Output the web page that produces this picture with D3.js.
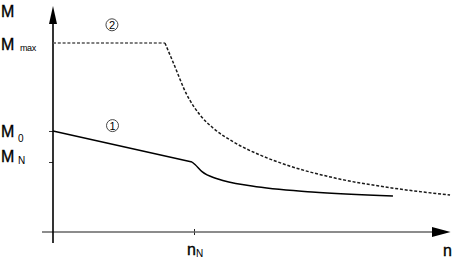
<!DOCTYPE html>
<html><head><meta charset="utf-8">
<script src="https://cdn.jsdelivr.net/npm/d3@7"></script>
<style>body{margin:0;background:#fff}svg{display:block}text{font-family:"Liberation Sans",Arial,sans-serif;fill:#000}</style>
</head><body><svg id="c" width="453" height="263"></svg>
<script>
// Data (n in units of nN, M in units of MN)
const nN = 1, MN = 1, M0 = 1.443, Mmax = 2.7;
const curve1 = [[0,1.443],[0.986,1.0],[1.007,0.965],[1.057,0.862],[1.17,0.757],[1.411,0.657],[1.837,0.571],[2.411,0.514]];
const curve2 = [[0,2.7],[0.794,2.7],[0.851,2.429],[0.95,1.957],[1.043,1.671],[1.135,1.486],[1.277,1.29],[1.468,1.1],[1.667,0.95],[2.0,0.771],[2.404,0.629],[2.816,0.529]];
const yTickLabels = [{v:Mmax,main:"M",sub:"max"},{v:M0,main:"M",sub:"0"},{v:MN,main:"M",sub:"N"}];
const xTickLabels = [{v:nN,main:"n",sub:"N"}];
const curveLabels = [{t:"2",n:0.418,m:2.96},{t:"1",n:0.422,m:1.52}];

const svg = d3.select("#c");
const x = d3.scaleLinear().domain([0,1]).range([53,194]);
const y = d3.scaleLinear().domain([0,1]).range([232,162]);

// axes
const xa = svg.append("g").attr("transform",`translate(0,${y(0)})`)
  .call(d3.axisBottom(x).tickValues([nN]).tickSize(3).tickFormat(""));
xa.select(".domain").remove();
xa.selectAll(".tick line").attr("stroke","#222").attr("y1",-3).attr("stroke-width",1);
svg.append("line").attr("x1",42).attr("x2",434).attr("y1",y(0)).attr("y2",y(0)).attr("stroke","#666").attr("stroke-width",1.6);
svg.append("path").attr("d",`M${x(2.82)},${y(0)}L432,${y(0)-5}L432,${y(0)+5}Z`).attr("fill","#000");

const ya = svg.append("g").attr("transform",`translate(${x(0)},0)`)
  .call(d3.axisLeft(y).tickValues([M0,MN]).tickSize(4).tickFormat(""));
ya.select(".domain").remove();
ya.selectAll(".tick line").attr("stroke","#333").attr("stroke-width",1);
svg.append("line").attr("x1",x(0)).attr("x2",x(0)).attr("y1",243).attr("y2",22).attr("stroke","#000").attr("stroke-width",1.6);
svg.append("path").attr("d",`M${x(0)},${y(3.23)}L${x(0)-4},24L${x(0)+4},24Z`).attr("fill","#000");

// curves: straight part linear, falling part smooth
const lin = d3.line().x(d=>x(d[0])).y(d=>y(d[1]));
const smooth = d3.line().x(d=>x(d[0])).y(d=>y(d[1])).curve(d3.curveMonotoneX);
const dash = {stroke:"#1a1a1a", w:1.5, da:"3,1.8"};
svg.append("path").attr("d",lin(curve2.slice(0,2))).attr("fill","none").attr("stroke","#555").attr("stroke-width",dash.w).attr("stroke-dasharray",dash.da);
svg.append("path").attr("d",smooth(curve2.slice(1))).attr("fill","none").attr("stroke",dash.stroke).attr("stroke-width",dash.w).attr("stroke-dasharray",dash.da);
svg.append("path").attr("d",lin(curve1.slice(0,2))).attr("fill","none").attr("stroke","#000").attr("stroke-width",1.5);
svg.append("path").attr("d",smooth(curve1.slice(1))).attr("fill","none").attr("stroke","#000").attr("stroke-width",1.5);

const heavy = t => t.attr("stroke","#000").attr("stroke-width",0.35);
// axis titles
heavy(svg.append("text").attr("x",1).attr("y",17).attr("font-size",16).text("M"));
heavy(svg.append("text").attr("x",443).attr("y",256).attr("font-size",16).text("n"));

// y tick labels
yTickLabels.forEach((d,i)=>{
  const base = i===0 ? 50 : (i===1 ? 137 : 162);
  const t = svg.append("text").attr("x",1).attr("y",base).attr("font-size",16);
  heavy(t.append("tspan").text(d.main));
  t.append("tspan").attr("x",i===0?20:18).attr("dy",i===0?1:(i===1?5:2)).attr("font-size",i===0?9:10).attr("letter-spacing",i===0?-0.4:0).text(d.sub);
});

// x tick labels
xTickLabels.forEach(d=>{
  const t = svg.append("text").attr("x",x(d.v)-7).attr("y",255).attr("font-size",16);
  heavy(t.append("tspan").text(d.main));
  t.append("tspan").attr("dy",2).attr("font-size",10).text(d.sub);
});

// circled curve labels
curveLabels.forEach(d=>{
  svg.append("circle").attr("cx",x(d.n)).attr("cy",y(d.m)).attr("r",6).attr("fill","none").attr("stroke","#333").attr("stroke-width",0.9);
  svg.append("text").attr("x",x(d.n)).attr("y",y(d.m)+4).attr("font-size",11).attr("text-anchor","middle").text(d.t);
});
</script></body></html>
